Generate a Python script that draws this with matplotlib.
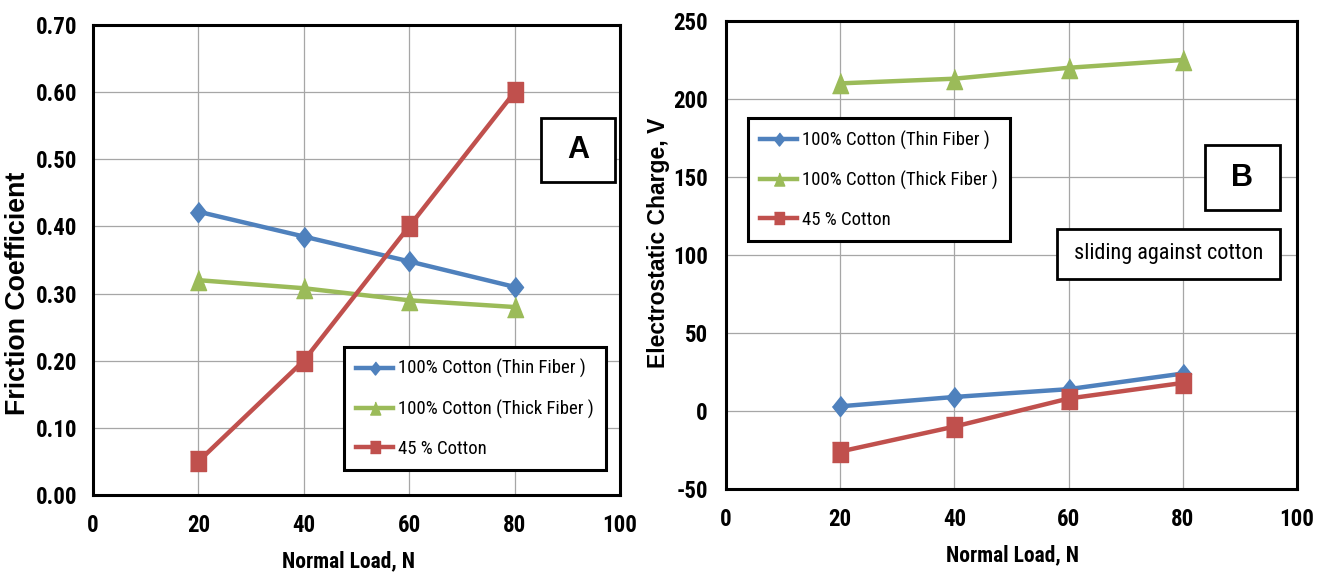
#!/usr/bin/env python3

import matplotlib
matplotlib.use('Agg')
import matplotlib.pyplot as plt
from matplotlib.patches import Rectangle
from matplotlib.ticker import FormatStrFormatter, MultipleLocator

# shared x values
loads = [20, 40, 60, 80]

# panel A: friction coefficient
friction_thin = [0.422, 0.385, 0.348, 0.310]
friction_thick = [0.320, 0.308, 0.290, 0.280]
friction_45 = [0.050, 0.200, 0.400, 0.600]

# panel B: electrostatic charge (V)
charge_thin = [3, 9, 14, 24]
charge_thick = [210, 213, 220, 225]
charge_45 = [-26, -10, 8, 18]

labels = ['100% Cotton (Thin Fiber )', '100% Cotton (Thick Fiber )', '45 % Cotton']
colors = ['#4F81BD', '#9BBB59', '#C0504D']

# markers are a bit taller than wide in the original
diamond = [(0, 1), (0.8, 0), (0, -1), (-0.8, 0)]
triangle = [(0, 1), (0.8, -1), (-0.8, -1)]
square = [(-0.78, -1), (0.78, -1), (0.78, 1), (-0.78, 1)]
markers = [diamond, triangle, square]
msizes = [14.5, 14.5, 14]

FONTS = ['Liberation Sans Narrow', 'Roboto Condensed', 'Liberation Sans',
         'DejaVu Sans']
WIDE = ['Liberation Sans', 'DejaVu Sans']

plt.rcParams['axes.unicode_minus'] = False


def style_axes(ax, xpad, ypad):
    ax.set_xlim(0, 100)
    ax.xaxis.set_major_locator(MultipleLocator(20))
    ax.grid(True, color='#A6A6A6', linewidth=0.9)
    ax.set_axisbelow(True)
    for sp in ax.spines.values():
        sp.set_linewidth(2.2)
        sp.set_color('black')
    ax.tick_params(length=0)
    ax.tick_params(axis='x', pad=xpad)
    ax.tick_params(axis='y', pad=ypad)
    for t in ax.get_xticklabels() + ax.get_yticklabels():
        t.set_family(FONTS)
        t.set_fontweight('bold')
        t.set_fontsize(16.5)


def draw_series(ax, series):
    for vals, lab, c, m, ms in zip(series, labels, colors, markers, msizes):
        ax.plot(loads, vals, color=c, marker=m, markersize=ms, linewidth=3.2,
                label=lab, zorder=3)


def add_legend(ax, anchor):
    leg = ax.legend(loc='upper left', bbox_to_anchor=anchor, borderaxespad=0,
                    prop={'family': FONTS, 'size': 13.5}, frameon=True,
                    fancybox=False, edgecolor='black', framealpha=1,
                    handlelength=2.0, handletextpad=0.25, labelspacing=1.12,
                    borderpad=0.65, markerscale=0.65)
    leg.get_frame().set_linewidth(2.2)
    leg.set_zorder(10)


def add_box(ax, x0, y0, x1, y1, text, **kw):
    ax.add_patch(Rectangle((x0, y0), x1 - x0, y1 - y0, transform=ax.transAxes,
                           facecolor='white', edgecolor='black', linewidth=2,
                           zorder=8, clip_on=False))
    ax.text((x0 + x1) / 2, (y0 + y1) / 2, text, transform=ax.transAxes,
            ha='center', va='center', zorder=9, **kw)


def main():
    fig = plt.figure(figsize=(13.3, 5.73), dpi=100)
    ax_a = fig.add_axes([0.0699, 0.1361, 0.3962, 0.8202])
    ax_b = fig.add_axes([0.5459, 0.1466, 0.4293, 0.8168])

    # panel A
    draw_series(ax_a, [friction_thin, friction_thick, friction_45])
    ax_a.set_ylim(0, 0.7)
    ax_a.yaxis.set_major_locator(MultipleLocator(0.1))
    ax_a.yaxis.set_major_formatter(FormatStrFormatter('%.2f'))
    style_axes(ax_a, 14, 11)
    ax_a.set_ylabel('Friction Coefficient', family=WIDE, fontweight='bold',
                    fontsize=19.3)
    ax_a.yaxis.set_label_coords(-0.118, 0.429)
    ax_a.set_xlabel('Normal Load, N', family=FONTS, fontweight='bold',
                    fontsize=15.5)
    ax_a.xaxis.set_label_coords(0.484, -0.118)
    add_legend(ax_a, (0.476, 0.315))
    add_box(ax_a, 0.850, 0.666, 0.991, 0.803, 'A', family=WIDE,
            fontweight='bold', fontsize=22)

    # panel B
    draw_series(ax_b, [charge_thin, charge_thick, charge_45])
    ax_b.set_ylim(-50, 250)
    ax_b.yaxis.set_major_locator(MultipleLocator(50))
    style_axes(ax_b, 13.5, 13)
    ax_b.set_ylabel('Electrostatic Charge, V', family=WIDE, fontweight='bold',
                    fontsize=16.5)
    ax_b.yaxis.set_label_coords(-0.098, 0.527)
    ax_b.set_xlabel('Normal Load, N', family=FONTS, fontweight='bold',
                    fontsize=15.5)
    ax_b.xaxis.set_label_coords(0.501, -0.118)
    add_legend(ax_b, (0.038, 0.792))
    add_box(ax_b, 0.839, 0.596, 0.970, 0.735, 'B', family=WIDE,
            fontweight='bold', fontsize=22)
    add_box(ax_b, 0.580, 0.449, 0.970, 0.556, 'sliding against cotton',
            family=FONTS, fontsize=16)

    fig.savefig('out.png', dpi=100)


if __name__ == '__main__':
    main()
